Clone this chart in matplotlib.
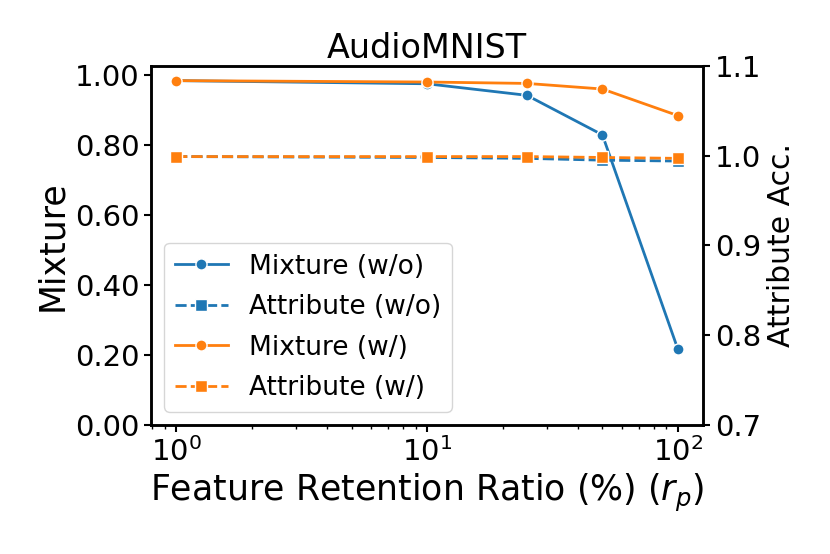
import matplotlib

matplotlib.use("Agg")
import matplotlib.pyplot as plt
from matplotlib.ticker import FormatStrFormatter, MultipleLocator

# retention ratio (%) on the x axis
ratio = [1, 10, 25, 50, 100]

# mixture accuracy (left axis)
mix_wo = [0.984, 0.975, 0.942, 0.829, 0.216]
mix_w = [0.984, 0.980, 0.976, 0.960, 0.884]

# attribute accuracy (right axis)
attr_wo = [0.999, 0.998, 0.997, 0.995, 0.994]
attr_w = [0.999, 0.999, 0.999, 0.998, 0.997]

labels = ["Mixture (w/o)", "Attribute (w/o)", "Mixture (w/)", "Attribute (w/)"]
BLUE, ORANGE = "#1f77b4", "#ff7f0e"

fig = plt.figure(figsize=(8.3, 5.54), dpi=100)
ax = fig.add_axes([0.182, 0.233, 0.665, 0.648])
ax2 = ax.twinx()

kw = dict(lw=2.0, markersize=8, markeredgecolor="white", markeredgewidth=1.0)
h1, = ax.plot(ratio, mix_wo, color=BLUE, marker="o", **kw)
h3, = ax.plot(ratio, mix_w, color=ORANGE, marker="o", **kw)
h2, = ax2.plot(ratio, attr_wo, color=BLUE, marker="s", dashes=(4, 1.5), **kw)
h4, = ax2.plot(ratio, attr_w, color=ORANGE, marker="s", dashes=(4, 1.5), **kw)

ax.set_xscale("log")
ax.set_ylim(0, 1.026)
ax2.set_ylim(0.7, 1.1)
ax.yaxis.set_major_locator(MultipleLocator(0.2))
ax.yaxis.set_major_formatter(FormatStrFormatter("%.2f"))
ax2.yaxis.set_major_locator(MultipleLocator(0.1))
ax2.yaxis.set_major_formatter(FormatStrFormatter("%.1f"))

for a in (ax, ax2):
    for s in a.spines.values():
        s.set_linewidth(1.8)
    a.tick_params(axis="both", which="major", labelsize=21, width=1.5, length=5)
    a.tick_params(axis="both", which="minor", width=1.0, length=3)

ax.set_title("AudioMNIST", fontsize=24)
ax.set_xlabel("Feature Retention Ratio (%) ($r_p$)", fontsize=25)
ax.set_ylabel("Mixture", fontsize=25)
ax2.set_ylabel("Attribute Acc.", fontsize=21.5)

ax2.legend([h1, h2, h3, h4], labels, loc="lower left", fontsize=19,
           handlelength=2.0, labelspacing=0.55, framealpha=0.8)

fig.savefig("out.png", dpi=100)
